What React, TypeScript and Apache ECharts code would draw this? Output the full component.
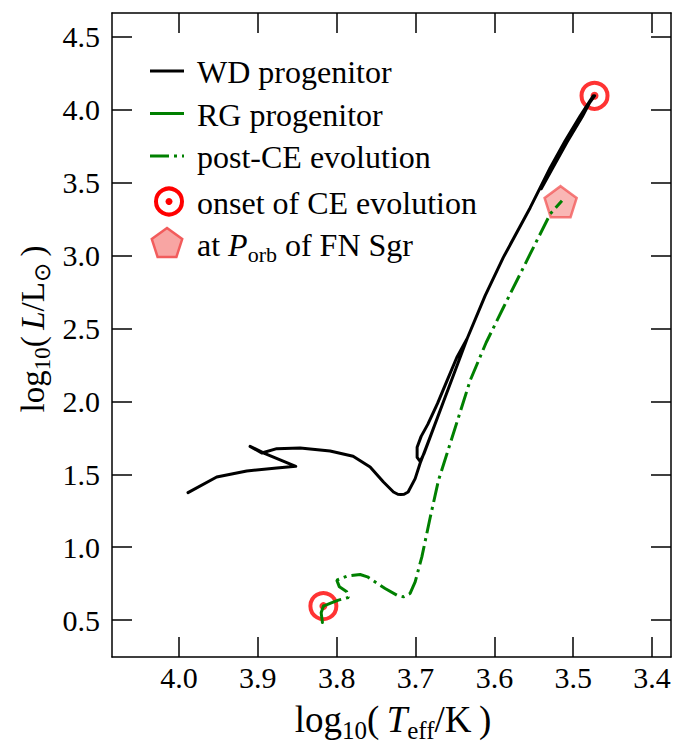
import React, { useEffect, useRef } from "react";
import * as echarts from "echarts";

// ---------- data ----------
const xTicks = [3.4, 3.5, 3.6, 3.7, 3.8, 3.9, 4.0];
const yTicks = [0.5, 1.0, 1.5, 2.0, 2.5, 3.0, 3.5, 4.0, 4.5];

// WD progenitor track (log Teff, log L)
const wdLogT = [
  3.9886, 3.9522, 3.9141, 3.876, 3.8519, 3.8909, 3.9099, 3.8951, 3.876, 3.8464,
  3.8084, 3.7792, 3.7576, 3.7407, 3.728, 3.7225, 3.7187, 3.7145, 3.7094, 3.7005,
  3.6942, 3.6802, 3.665, 3.6497, 3.6345, 3.6477, 3.6599, 3.6721, 3.6845, 3.6929,
  3.698, 3.698, 3.6942, 3.6891, 3.6802, 3.665, 3.6497, 3.6345, 3.6117, 3.5888,
  3.5546, 3.5292, 3.5102, 3.4911, 3.4746, 3.4886, 3.5076, 3.5266, 3.5406, 3.5292,
  3.5102, 3.4911, 3.473,
];
const wdLogL = [
  1.3747, 1.4815, 1.5226, 1.5432, 1.5548, 1.6418, 1.6918, 1.6459, 1.676, 1.6801,
  1.6596, 1.6233, 1.55, 1.4473, 1.3788, 1.3635, 1.361, 1.3635, 1.3788, 1.4705,
  1.5753, 1.774, 1.9932, 2.2123, 2.4315, 2.3014, 2.1438, 1.9863, 1.8425, 1.7603,
  1.6849, 1.6164, 1.589, 1.6438, 1.774, 1.9932, 2.2123, 2.4315, 2.726, 2.9863,
  3.3288, 3.6027, 3.7877, 3.9589, 4.0959, 3.9521, 3.7808, 3.5959, 3.4589, 3.6027,
  3.7877, 3.9589, 4.0959,
];

// RG progenitor (short segment)
const rgLogT = [3.8181, 3.8197, 3.8169];
const rgLogL = [0.484, 0.55, 0.596];

// post-CE evolution
const ceLogT = [
  3.8169, 3.8084, 3.7978, 3.7851, 3.7872, 3.7966, 3.7999, 3.7872, 3.7703, 3.761,
  3.7386, 3.7237, 3.7154, 3.7069, 3.7005, 3.692, 3.6815, 3.6709, 3.6561, 3.6307,
  3.6104, 3.5884, 3.5546, 3.5292, 3.5143,
];
const ceLogL = [
  0.596, 0.6144, 0.637, 0.6555, 0.6938, 0.7281, 0.774, 0.8014, 0.813, 0.7966,
  0.7171, 0.6712, 0.6596, 0.6829, 0.7623, 0.9336, 1.2021, 1.4589, 1.7103, 2.1438,
  2.4041, 2.6459, 3.0116, 3.2856, 3.3767,
];

// onset of CE evolution
const onsetLogT = [3.8169, 3.473];
const onsetLogL = [0.596, 4.096];

// at P_orb of FN Sgr
const fnLogT = [3.516];
const fnLogL = [3.37];

const legendLabels = [
  "WD progenitor",
  "RG progenitor",
  "post-CE evolution",
  "onset of CE evolution",
];

// ---------- helpers ----------
const zip = (a: number[], b: number[]) => a.map((v, i) => [v, b[i]]);
const FONT = "Liberation Serif";
const GREEN = "#008000";

const pentagon = (cx: number, cy: number, r: number) => {
  const pts: number[][] = [];
  for (let k = 0; k < 5; k++) {
    const a = -Math.PI / 2 + (k * 2 * Math.PI) / 5;
    pts.push([cx + r * Math.cos(a), cy + r * Math.sin(a)]);
  }
  return pts;
};

const makeRich = (big: number, small: number, drop: number) => ({
  a: { fontFamily: FONT, fontSize: big, fill: "#000", verticalAlign: "top" },
  i: { fontFamily: FONT, fontSize: big, fill: "#000", fontStyle: "italic", verticalAlign: "top" },
  s: { fontFamily: FONT, fontSize: small, fill: "#000", verticalAlign: "top", padding: [drop, 0, 0, 0] },
});
const legendRich = makeRich(32, 22, 14);
const xTitleRich = makeRich(37, 25, 17);
const yTitleRich = makeRich(33, 23, 15);

export default function App() {
  const ref = useRef<HTMLDivElement>(null);
  useEffect(() => {
    if (!ref.current) return;
    const chart = echarts.init(ref.current, null, { renderer: "svg" });

    const axisCommon = {
      type: "value",
      splitLine: { show: false },
      axisLine: { show: true, onZero: false, lineStyle: { color: "#000", width: 1.5 } },
    };
    const tick = (vals: number[]) => ({
      show: true,
      inside: true,
      length: 20,
      customValues: vals,
      lineStyle: { color: "#000", width: 1.5 },
    });

    const legendRows = [71, 113.5, 156, 201.5, 244];
    const lx1 = 150,
      lx2 = 184,
      tx = 197;

    const option: any = {
      animation: false,
      backgroundColor: "#fff",
      textStyle: { fontFamily: FONT },
      grid: { left: 112, right: 7, top: 13, bottom: 92 },
      xAxis: [
        {
          ...axisCommon,
          position: "bottom",
          inverse: true,
          min: 3.376,
          max: 4.085,
          axisTick: tick(xTicks),
          axisLabel: {
            customValues: xTicks,
            formatter: (v: number) => v.toFixed(1),
            fontFamily: FONT,
            fontSize: 30,
            color: "#000",
            margin: 5,
          },
        },
        {
          ...axisCommon,
          position: "top",
          inverse: true,
          min: 3.376,
          max: 4.085,
          axisTick: tick(xTicks),
          axisLabel: { show: false },
        },
      ],
      yAxis: [
        {
          ...axisCommon,
          position: "left",
          min: 0.247,
          max: 4.664,
          axisTick: tick(yTicks),
          axisLabel: {
            customValues: yTicks,
            formatter: (v: number) => v.toFixed(1),
            fontFamily: FONT,
            fontSize: 30,
            color: "#000",
            margin: 12,
          },
        },
        {
          ...axisCommon,
          position: "right",
          min: 0.247,
          max: 4.664,
          axisTick: tick(yTicks),
          axisLabel: { show: false },
        },
      ],
      series: [
        {
          name: "at P_orb of FN Sgr",
          type: "scatter",
          data: zip(fnLogT, fnLogL),
          symbol: "path://M0,-1 L0.951,-0.309 L0.588,0.809 L-0.588,0.809 L-0.951,-0.309 Z",
          symbolSize: [32, 31],
          itemStyle: { color: "#f8a5a3", borderColor: "#f25c5c", borderWidth: 2.5 },
          z: 2,
        },
        {
          name: legendLabels[3],
          type: "scatter",
          data: zip(onsetLogT, onsetLogL),
          symbol: "circle",
          symbolSize: 26,
          itemStyle: { color: "rgba(0,0,0,0)", borderColor: "#ff0000", borderWidth: 4 },
          z: 2,
        },
        {
          name: legendLabels[3] + " (centre)",
          type: "scatter",
          data: zip(onsetLogT, onsetLogL),
          symbol: "circle",
          symbolSize: 8,
          itemStyle: { color: "#ff0000" },
          z: 2,
        },
        {
          name: legendLabels[0],
          type: "line",
          data: zip(wdLogT, wdLogL),
          showSymbol: false,
          symbol: "none",
          lineStyle: { color: "#000", width: 3, join: "round", cap: "round" },
          z: 3,
        },
        {
          name: legendLabels[1],
          type: "line",
          data: zip(rgLogT, rgLogL),
          showSymbol: false,
          symbol: "none",
          lineStyle: { color: GREEN, width: 3, cap: "round" },
          z: 3,
        },
        {
          name: legendLabels[2],
          type: "line",
          data: zip(ceLogT, ceLogL),
          showSymbol: false,
          symbol: "none",
          lineStyle: { color: GREEN, width: 3, type: [19, 5, 3, 5], cap: "butt" },
          z: 3,
        },
      ],
      graphic: [
        // legend
        { type: "line", shape: { x1: lx1, y1: legendRows[0], x2: lx2, y2: legendRows[0] }, style: { stroke: "#000", lineWidth: 3 } },
        { type: "line", shape: { x1: lx1, y1: legendRows[1], x2: lx2, y2: legendRows[1] }, style: { stroke: GREEN, lineWidth: 3 } },
        { type: "line", shape: { x1: lx1, y1: legendRows[2], x2: lx2, y2: legendRows[2] }, style: { stroke: GREEN, lineWidth: 3, lineDash: [19, 5, 3, 5] } },
        { type: "circle", shape: { cx: 169, cy: legendRows[3], r: 13 }, style: { fill: "none", stroke: "#ff0000", lineWidth: 4 } },
        { type: "circle", shape: { cx: 169, cy: legendRows[3], r: 3.5 }, style: { fill: "#ff0000" } },
        { type: "polygon", shape: { points: pentagon(167, legendRows[4], 16) }, style: { fill: "#f8a5a3", stroke: "#f25c5c", lineWidth: 2.5 } },
        ...legendLabels.map((t, k) => ({
          type: "text",
          x: tx,
          y: legendRows[k] + 1,
          style: {
            text: t,
            fontFamily: FONT,
            fontSize: 32,
            fill: "#000",
            align: "left",
            verticalAlign: "middle",
          },
        })),
        {
          type: "text",
          x: tx,
          y: legendRows[4] + 3,
          style: {
            text: "{a|at }{i|P}{s|orb}{a| of FN Sgr}",
            fontFamily: FONT,
            fontSize: 32,
            rich: legendRich,
            align: "left",
            verticalAlign: "middle",
          },
        },
        // axis titles
        {
          type: "text",
          x: 393,
          y: 722,
          style: {
            text: "{a|log}{s|10}{a|(\u2009}{i|T}{s|eff}{a|/K\u2009)}",
            fontFamily: FONT,
            fontSize: 37,
            rich: xTitleRich,
            align: "center",
            verticalAlign: "middle",
          },
        },
        {
          type: "text",
          x: 35,
          y: 329,
          rotation: Math.PI / 2,
          style: {
            text: "{a|log}{s|10}{a|(\u2009}{i|L}{a|/L}{s|\u2299}{a|\u2009)}",
            fontFamily: FONT,
            fontSize: 33,
            rich: yTitleRich,
            align: "center",
            verticalAlign: "middle",
          },
        },
      ],
    };

    chart.setOption(option);
    return () => chart.dispose();
  }, []);

  return (
    <div
      ref={ref}
      style={{ position: "fixed", left: 0, top: 0, width: 678, height: 749, background: "#fff" }}
    />
  );
}
